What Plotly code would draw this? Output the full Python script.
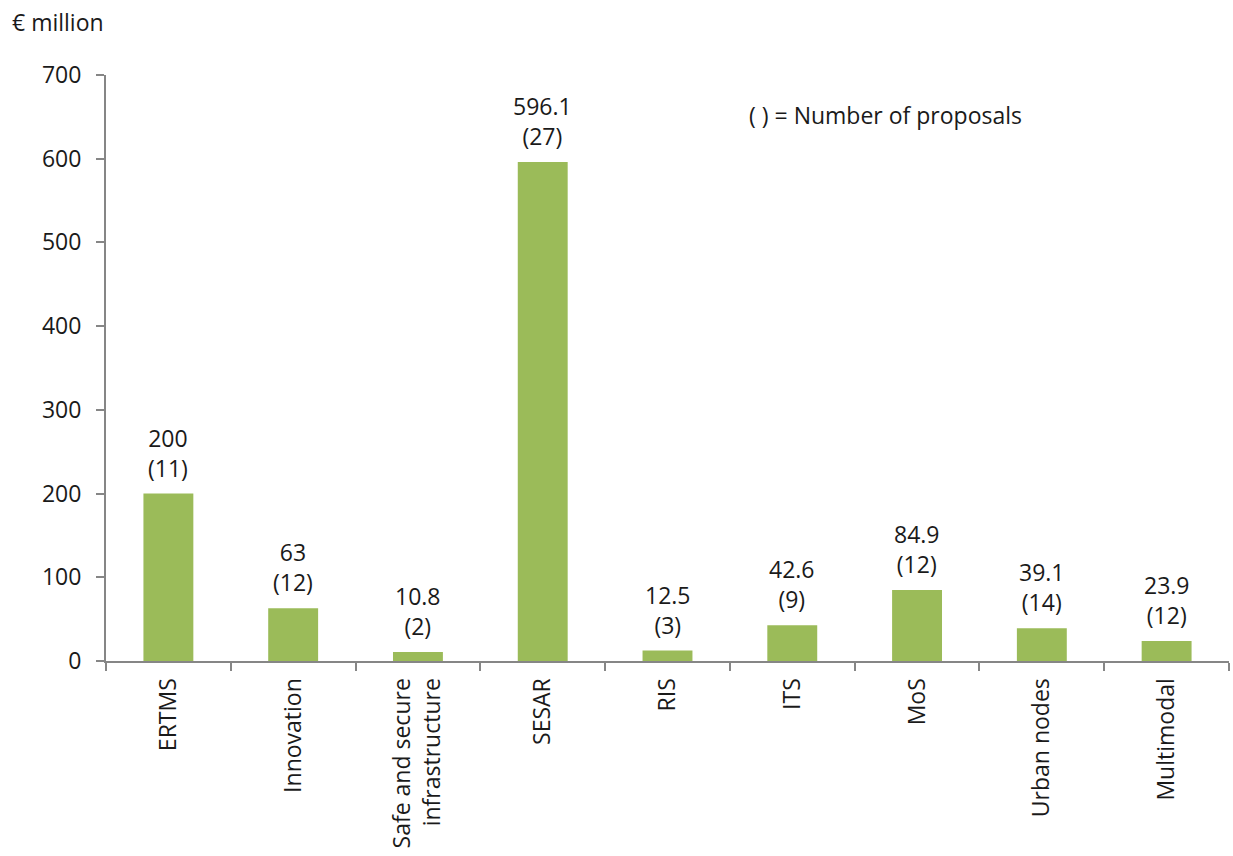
import plotly.graph_objects as go

categories = ["ERTMS", "Innovation", "Safe and secure<br>infrastructure", "SESAR", "RIS",
              "ITS", "MoS", "Urban nodes", "Multimodal"]
values = [200, 63, 10.8, 596.1, 12.5, 42.6, 84.9, 39.1, 23.9]
proposals = [11, 12, 2, 27, 3, 9, 12, 14, 12]

FONT = "Open Sans"
FS = 23
TXT = "#1a1a1a"

fig = go.Figure(go.Bar(
    x=categories, y=values,
    marker=dict(color="#9BBB59", line=dict(width=0)),
    hoverinfo="x+y",
))

bar_labels = [
    dict(x=c, y=v, xref="x", yref="y", text=f"{v:g}<br>({n})", showarrow=False,
         yanchor="bottom", yshift=8, font=dict(size=FS, color=TXT, family=FONT))
    for c, v, n in zip(categories, values, proposals)
]

fig.update_layout(
    width=1233, height=856,
    margin=dict(l=106, r=4, t=75, b=195),
    plot_bgcolor="white", paper_bgcolor="white",
    bargap=0.6, showlegend=False,
    font=dict(family=FONT, size=FS, color=TXT),
    xaxis=dict(
        type="category", tickson="boundaries", ticks="outside", ticklen=8,
        tickcolor="#868686", tickwidth=2, showline=True, linecolor="#868686", linewidth=2,
        tickangle=-90, tickfont=dict(size=FS), showgrid=False, ticklabelstandoff=6,
    ),
    yaxis=dict(
        range=[0, 700], dtick=100, ticks="outside", ticklen=8, tickcolor="#868686",
        tickwidth=2, showline=True, linecolor="#868686", linewidth=2, showgrid=False,
        zeroline=False, tickfont=dict(size=FS), ticklabelstandoff=10,
    ),
    annotations=bar_labels + [
        dict(text="€ million", xref="paper", yref="paper", x=-0.0853, y=1.0904,
             xanchor="left", yanchor="middle", showarrow=False, font=dict(size=FS)),
        dict(text="( ) = Number of proposals", xref="paper", yref="paper", x=0.5707, y=0.9317,
             xanchor="left", yanchor="middle", showarrow=False, font=dict(size=FS)),
    ],
)

fig.write_html("out.html")
